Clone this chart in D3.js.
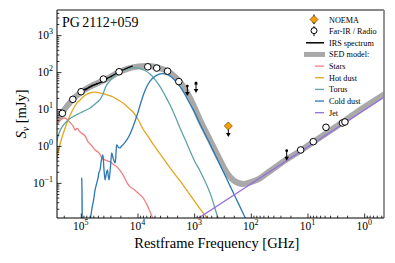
<!DOCTYPE html>
<html>
<head>
<meta charset="utf-8">
<script src="https://cdn.jsdelivr.net/npm/d3@7"></script>
<style>
  body { margin: 0; background: #fff; }
  svg { font-family: "Liberation Serif", "DejaVu Serif", serif; }
</style>
</head>
<body>
<div id="chart"></div>
<script>
// all values are [log10 frequency (GHz), log10 flux (mJy)]
const farIR = [
  [5.325, 0.884], [5.141, 1.262], [4.995, 1.468], [4.601, 1.811], [4.325, 2.008],
  [3.818, 2.143], [3.660, 2.108], [3.469, 2.024], [3.270, 1.743],
  [1.120, -0.108], [0.898, 0.116], [0.674, 0.505], [0.383, 0.622], [0.339, 0.649]
];
const upperLims = [[3.120, 1.622], [2.967, 1.703], [1.367, -0.127]];
const noema = [[2.397, 0.541]];

const irs = [
  [4.942, 1.500], [4.930, 1.535], [4.918, 1.520], [4.907, 1.552], [4.895, 1.530],
  [4.883, 1.566], [4.871, 1.560], [4.860, 1.590], [4.848, 1.582], [4.836, 1.612],
  [4.824, 1.600], [4.812, 1.632], [4.801, 1.618], [4.789, 1.645], [4.777, 1.640],
  [4.765, 1.662], [4.754, 1.648], [4.742, 1.672], [4.730, 1.666], [4.718, 1.690],
  [4.706, 1.680], [4.695, 1.700], [4.683, 1.695], [4.671, 1.715], [4.660, 1.708],
  [4.648, 1.730], [4.636, 1.728], [4.624, 1.752], [4.612, 1.762], [4.600, 1.775],
  [4.589, 1.790], [4.577, 1.795], [4.565, 1.812], [4.554, 1.806], [4.542, 1.830],
  [4.530, 1.826], [4.519, 1.846], [4.507, 1.850], [4.495, 1.862], [4.483, 1.870],
  [4.471, 1.884], [4.460, 1.880], [4.448, 1.902], [4.436, 1.910], [4.424, 1.922],
  [4.413, 1.935], [4.401, 1.942], [4.389, 1.955], [4.377, 1.962], [4.366, 1.975],
  [4.354, 1.980], [4.342, 1.996], [4.330, 2.000], [4.318, 2.015], [4.307, 2.020],
  [4.295, 2.036], [4.283, 2.040], [4.272, 2.050], [4.260, 2.058], [4.248, 2.064],
  [4.236, 2.070], [4.225, 2.082], [4.213, 2.086], [4.201, 2.096], [4.189, 2.100],
  [4.177, 2.112], [4.166, 2.116], [4.154, 2.128], [4.142, 2.132], [4.130, 2.142],
  [4.118, 2.146], [4.107, 2.156], [4.095, 2.158], [4.083, 2.168]
];

const sedModel = [
  [5.418, 0.676], [5.330, 0.892], [5.242, 1.081], [5.136, 1.270], [4.995, 1.459],
  [4.836, 1.608], [4.660, 1.730], [4.483, 1.865], [4.325, 2.000], [4.166, 2.095],
  [3.989, 2.149], [3.813, 2.162], [3.637, 2.122], [3.496, 2.041], [3.372, 1.919],
  [3.266, 1.757], [3.160, 1.541], [3.037, 1.189], [2.896, 0.703], [2.720, 0.162],
  [2.544, -0.378], [2.420, -0.730], [2.314, -0.919], [2.226, -1.000], [2.138, -1.027],
  [2.014, -0.986], [1.873, -0.905], [1.661, -0.676], [1.397, -0.392], [1.132, -0.135],
  [0.780, 0.230], [0.427, 0.595], [0.074, 0.973], [-0.400, 1.440]
];

const stars = [
  [5.436, 0.649], [5.365, 0.703], [5.295, 0.757], [5.242, 0.716], [5.189, 0.635],
  [5.136, 0.541], [5.101, 0.432], [5.065, 0.473], [5.012, 0.378], [4.924, 0.270],
  [4.871, 0.108], [4.818, 0.027], [4.748, -0.108], [4.677, -0.189], [4.624, -0.324],
  [4.554, -0.392], [4.483, -0.432], [4.413, -0.514], [4.360, -0.568], [4.289, -0.703],
  [4.236, -0.838], [4.183, -1.000], [4.130, -1.108], [4.060, -1.176], [3.972, -1.297],
  [3.901, -1.405], [3.831, -1.595], [3.778, -1.784], [3.725, -1.973], [3.690, -2.162]
];

const hotDust = [
  [5.453, -0.541], [5.418, -0.324], [5.383, -0.054], [5.330, 0.243], [5.277, 0.486],
  [5.224, 0.703], [5.153, 0.946], [5.083, 1.135], [5.012, 1.243], [4.942, 1.351],
  [4.871, 1.419], [4.783, 1.459], [4.695, 1.446], [4.607, 1.419], [4.519, 1.378],
  [4.430, 1.324], [4.342, 1.243], [4.254, 1.162], [4.166, 1.041], [4.078, 0.919],
  [3.989, 0.716], [3.901, 0.459], [3.795, 0.216], [3.690, -0.027], [3.601, -0.216],
  [3.425, -0.595], [3.249, -0.946], [3.072, -1.324], [2.896, -1.703], [2.773, -1.946],
  [2.684, -2.135]
];

const torus = [
  [5.453, -0.108], [5.418, 0.162], [5.383, 0.351], [5.330, 0.514], [5.259, 0.649],
  [5.189, 0.743], [5.101, 0.824], [5.012, 0.892], [4.924, 0.959], [4.836, 1.027],
  [4.748, 1.135], [4.677, 1.230], [4.624, 1.351], [4.589, 1.486], [4.554, 1.622],
  [4.519, 1.703], [4.483, 1.770], [4.457, 1.811], [4.430, 1.851], [4.377, 1.932],
  [4.307, 2.014], [4.219, 2.068], [4.130, 2.108], [4.042, 2.122], [3.954, 2.095],
  [3.866, 2.041], [3.778, 1.946], [3.690, 1.797], [3.601, 1.608], [3.513, 1.365],
  [3.425, 1.108], [3.337, 0.811], [3.249, 0.486], [3.125, 0.054], [2.984, -0.432],
  [2.896, -0.676], [2.720, -1.270], [2.579, -1.946], [2.508, -2.216]
];

const coldDust = [
  [5.101, -3.081], [4.996, -2.541], [4.982, -0.865], [4.968, -2.541], [4.942, -2.946],
  [4.871, -2.810], [4.827, -1.946], [4.801, -1.676], [4.774, -1.460], [4.748, -1.189],
  [4.718, -1.000], [4.695, -0.865], [4.677, -0.703], [4.660, -0.649], [4.642, -0.432],
  [4.612, -0.243], [4.593, -0.595], [4.571, -0.919], [4.554, -0.784], [4.531, -0.649],
  [4.515, -0.811], [4.501, -0.919], [4.474, -0.514], [4.453, -0.189], [4.430, -0.324],
  [4.395, -0.459], [4.378, -0.162], [4.365, 0.027], [4.342, -0.027], [4.307, -0.054],
  [4.280, 0.000], [4.259, 0.027], [4.228, 0.081], [4.189, 0.162], [4.148, 0.270],
  [4.101, 0.432], [4.042, 0.676], [3.989, 0.919], [3.937, 1.189], [3.884, 1.432],
  [3.831, 1.622], [3.778, 1.757], [3.707, 1.865], [3.637, 1.932], [3.566, 1.959],
  [3.496, 1.946], [3.425, 1.892], [3.355, 1.797], [3.284, 1.676], [3.213, 1.527],
  [3.143, 1.338], [3.072, 1.135], [2.984, 0.892], [2.896, 0.595], [2.720, 0.054],
  [2.543, -0.514], [2.367, -1.081], [2.190, -1.649], [2.014, -2.216]
];

const jet = [[3.05, -2.08], [-0.45, 1.42]];

const xTicks = [5, 4, 3, 2, 1, 0];
const yTicks = [-1, 0, 1, 2, 3];

const components = [
  { name: "Stars", data: stars, color: "#f08080" },
  { name: "Hot dust", data: hotDust, color: "#e3a51c" },
  { name: "Torus", data: torus, color: "#5fa3a3" },
  { name: "Cold dust", data: coldDust, color: "#2a78b5" },
  { name: "Jet", data: jet, color: "#9370db" }
];

const margin = { top: 10, right: 11, bottom: 45, left: 57 },
    width = 395 - margin.left - margin.right,
    height = 263 - margin.top - margin.bottom;

const svg = d3.select("#chart")
    .append("svg")
    .attr("width", 395)
    .attr("height", 263)
    .append("g")
    .attr("transform", `translate(${margin.left},${margin.top})`);

const x = d3.scaleLog().domain([10 ** 5.42, 10 ** -0.35]).range([0, width]);
const y = d3.scaleLog().domain([10 ** -1.95, 10 ** 3.68]).range([height, 0]);

const px = d => x(10 ** d[0]);
const py = d => y(10 ** d[1]);

svg.append("clipPath").attr("id", "clip")
    .append("rect").attr("width", width).attr("height", height);

const plot = svg.append("g").attr("clip-path", "url(#clip)");

const smooth = d3.line().x(px).y(py).curve(d3.curveCatmullRom.alpha(0.5));
const straight = d3.line().x(px).y(py);

// SED model band
plot.append("path")
    .attr("d", smooth(sedModel))
    .attr("fill", "none")
    .attr("stroke", "#a9a9a9")
    .attr("stroke-width", 6)
    .attr("stroke-linecap", "round");

components.forEach(c => {
    plot.append("path")
        .attr("d", smooth(c.data))
        .attr("fill", "none")
        .attr("stroke", c.color)
        .attr("stroke-width", 1.3);
});

// IRS spectrum
plot.append("path")
    .attr("d", straight(irs))
    .attr("fill", "none")
    .attr("stroke", "#000")
    .attr("stroke-width", 1.2);

// upper limits
function downArrow(g, cx, cy, len) {
    g.append("line")
        .attr("x1", cx).attr("x2", cx)
        .attr("y1", cy).attr("y2", cy + len - 2)
        .attr("stroke", "#000").attr("stroke-width", 1);
    g.append("path")
        .attr("d", `M${cx - 2.3},${cy + len - 4} L${cx + 2.3},${cy + len - 4} L${cx},${cy + len} Z`)
        .attr("fill", "#000");
}

upperLims.forEach((d, i) => {
    const cx = px(d), cy = py(d);
    downArrow(plot, cx, cy, 10);
    plot.append("circle").attr("cx", cx).attr("cy", cy).attr("r", 1.4).attr("fill", "#000");
    if (i === 1) {
        plot.append("path")
            .attr("d", `M${cx - 1.8},${cy + 1.5} L${cx + 1.8},${cy + 1.5} L${cx},${cy - 1.5} Z`)
            .attr("fill", "#000");
    }
});

noema.forEach(d => {
    const cx = px(d), cy = py(d);
    downArrow(plot, cx, cy, 11);
    plot.append("path")
        .attr("d", `M${cx},${cy - 4} L${cx + 4},${cy} L${cx},${cy + 4} L${cx - 4},${cy} Z`)
        .attr("fill", "#f5a00a")
        .attr("stroke", "#6b4000")
        .attr("stroke-width", 0.7);
});

plot.selectAll("circle.pt")
    .data(farIR)
    .enter()
    .append("circle")
    .attr("class", "pt")
    .attr("cx", px)
    .attr("cy", py)
    .attr("r", 3.3)
    .attr("fill", "#fff")
    .attr("stroke", "#000")
    .attr("stroke-width", 1);

// minor tick values
function minors(scale) {
    const [a, b] = d3.extent(scale.domain());
    const out = [];
    for (let e = -3; e <= 7; e++) {
        for (let k = 2; k <= 9; k++) {
            const v = k * 10 ** e;
            if (v > a && v < b) out.push(v);
        }
    }
    return out;
}

// axes
const xAxis = svg.append("g").attr("transform", `translate(0,${height})`);
xAxis.call(d3.axisBottom(x).tickValues(xTicks.map(e => 10 ** e)).tickSize(-4.5).tickFormat(""));
xAxis.call(g => g.append("g").call(d3.axisBottom(x).tickValues(minors(x)).tickSize(-2.3).tickFormat("")));
const yAxis = svg.append("g");
yAxis.call(d3.axisLeft(y).tickValues(yTicks.map(e => 10 ** e)).tickSize(-4.5).tickFormat(""));
yAxis.call(g => g.append("g").call(d3.axisLeft(y).tickValues(minors(y)).tickSize(-2.3).tickFormat("")));
svg.selectAll(".domain").remove();
svg.selectAll(".tick line").attr("stroke", "#000").attr("stroke-width", 0.8);

const sup = e => (e < 0 ? "\u2212" + (-e) : "" + e);

xTicks.forEach(e => {
    const t = svg.append("text")
        .attr("x", x(10 ** e))
        .attr("y", height + 12)
        .attr("text-anchor", "middle")
        .attr("font-size", 11.5);
    t.append("tspan").text("10");
    t.append("tspan").attr("dy", -5).attr("font-size", 8).text(sup(e));
});

yTicks.forEach(e => {
    const t = svg.append("text")
        .attr("x", -4)
        .attr("y", y(10 ** e) + 4)
        .attr("text-anchor", "end")
        .attr("font-size", 11.5);
    t.append("tspan").text("10");
    t.append("tspan").attr("dy", -5).attr("font-size", 8).text(sup(e));
});

// frame
svg.append("line").attr("x1", 0).attr("x2", width).attr("y1", 0).attr("y2", 0)
    .attr("stroke", "#888").attr("stroke-width", 1.8);
svg.append("line").attr("x1", width).attr("x2", width).attr("y1", 0).attr("y2", height)
    .attr("stroke", "#888").attr("stroke-width", 1.8);
svg.append("line").attr("x1", 0).attr("x2", 0).attr("y1", 0).attr("y2", height)
    .attr("stroke", "#000").attr("stroke-width", 1);
svg.append("line").attr("x1", 0).attr("x2", width).attr("y1", height).attr("y2", height)
    .attr("stroke", "#000").attr("stroke-width", 1);

// labels
svg.append("text")
    .attr("x", x(10 ** 2.6))
    .attr("y", height + 30)
    .attr("text-anchor", "middle")
    .attr("font-size", 14.5)
    .text("Restframe Frequency [GHz]");

const yl = svg.append("text")
    .attr("transform", `translate(-31,${height / 2}) rotate(-90)`)
    .attr("text-anchor", "middle")
    .attr("font-size", 14.5);
yl.append("tspan").attr("font-style", "italic").text("S");
yl.append("tspan").attr("dy", 3).attr("font-size", 10).attr("font-style", "italic").text("\u03bd");
yl.append("tspan").attr("dy", -3).text(" [mJy]");

svg.append("text")
    .attr("x", 5)
    .attr("y", 17)
    .attr("font-size", 14)
    .text("PG\u20062112+059");

// legend
const legend = d3.select("svg").append("g");
const rowY = i => 19.5 + i * 11.65;
const lx = 314, tx = 329;
const labels = ["NOEMA", "Far-IR / Radio", "IRS spectrum", "SED model:"]
    .concat(components.map(c => c.name));

labels.forEach((s, i) => {
    legend.append("text")
        .attr("x", tx)
        .attr("y", rowY(i) + 3)
        .attr("font-size", 8.2)
        .text(s);
});

// NOEMA handle
legend.append("line").attr("x1", lx).attr("x2", lx).attr("y1", rowY(0) - 5).attr("y2", rowY(0) + 3)
    .attr("stroke", "#000").attr("stroke-width", 1);
legend.append("path")
    .attr("d", `M${lx - 2},${rowY(0) + 2} L${lx + 2},${rowY(0) + 2} L${lx},${rowY(0) + 5} Z`)
    .attr("fill", "#000");
legend.append("path")
    .attr("d", `M${lx},${rowY(0) - 4} L${lx + 4},${rowY(0)} L${lx},${rowY(0) + 4} L${lx - 4},${rowY(0)} Z`)
    .attr("fill", "#f5a00a").attr("stroke", "#6b4000").attr("stroke-width", 0.7);
// Far-IR handle
legend.append("line").attr("x1", lx).attr("x2", lx).attr("y1", rowY(1) - 5).attr("y2", rowY(1) + 5)
    .attr("stroke", "#000").attr("stroke-width", 1);
legend.append("circle").attr("cx", lx).attr("cy", rowY(1) - 0.5).attr("r", 3)
    .attr("fill", "#fff").attr("stroke", "#000").attr("stroke-width", 1);
// IRS handle
legend.append("line").attr("x1", 306).attr("x2", 324).attr("y1", rowY(2)).attr("y2", rowY(2))
    .attr("stroke", "#000").attr("stroke-width", 1.5);
// SED band handle
legend.append("line").attr("x1", 304).attr("x2", 325).attr("y1", rowY(3)).attr("y2", rowY(3))
    .attr("stroke", "#a9a9a9").attr("stroke-width", 5);
components.forEach((c, i) => {
    legend.append("line").attr("x1", 315).attr("x2", 324)
        .attr("y1", rowY(i + 4)).attr("y2", rowY(i + 4))
        .attr("stroke", c.color).attr("stroke-width", 1.3);
});
</script>
</body>
</html>
